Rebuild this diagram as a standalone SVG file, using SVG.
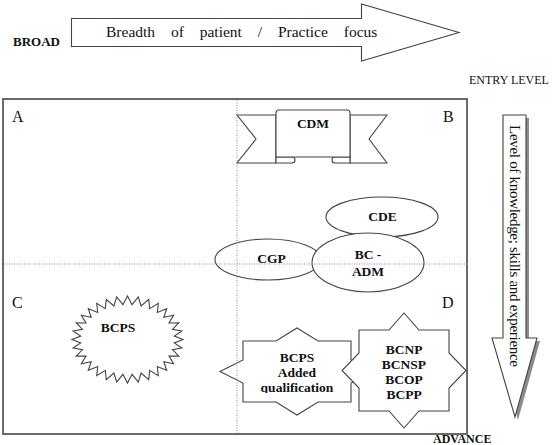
<svg xmlns="http://www.w3.org/2000/svg" width="552" height="445" viewBox="0 0 552 445">
<style>
text{font-family:"Liberation Serif","Times New Roman",serif;fill:#111}
.b{font-weight:bold;font-size:13.5px;text-anchor:middle}
.q{font-size:16px}
.shape{fill:#fff;stroke:#444;stroke-width:1.1}
.grid{stroke:#8a8a8a;stroke-width:1;stroke-dasharray:1 1.5;fill:none}
</style>
<defs>
<clipPath id="clipq"><rect x="240" y="340" width="120" height="53"/></clipPath>
</defs>
<rect width="552" height="445" fill="#fff"/>

<g id="top-arrow">
<polygon class="shape" points="71.5,18.5 361.5,18.5 361.5,4 459,32.5 361.5,61 361.5,46.5 71.5,46.5"/>
<text x="106" y="37" font-size="15.5" word-spacing="12">Breadth of patient / Practice focus</text>
</g>
<text id="broad" x="13" y="46" font-size="13" font-weight="bold">BROAD</text>
<text id="entry" x="469" y="84" font-size="12">ENTRY LEVEL</text>

<g id="frame">
<rect x="3" y="99" width="464" height="335" fill="none" stroke="#6a6a6a" stroke-width="2"/>
</g>

<g id="nodes">
<g id="cdm">
<path class="shape" d="M276,115 H237 L256,139 L237,163 H276 Z"/>
<path class="shape" d="M350,115 H387 L369,139 L387,163 H350 Z"/>
<path class="shape" d="M276,157 V163 H292 A3,3 0 0 0 292,157 Z"/>
<path class="shape" d="M350,157 V163 H335 A3,3 0 0 1 335,157 Z"/>
<path class="shape" d="M276,157 V113 Q276,110 279,110 H347 Q350,110 350,113 V157 Z"/>
<text class="b" x="313" y="128">CDM</text>
</g>
<g id="cde">
<ellipse class="shape" cx="382" cy="217" rx="56" ry="20"/>
<text class="b" x="382.5" y="221">CDE</text>
</g>
<g id="cgp">
<ellipse class="shape" cx="268" cy="259.5" rx="53" ry="20.5"/>
<text class="b" x="271.5" y="263">CGP</text>
</g>
<g id="bcadm">
<ellipse class="shape" cx="368" cy="262.5" rx="56" ry="29.5"/>
<text class="b" x="368" y="259">BC -</text>
<text class="b" x="368" y="276">ADM</text>
</g>
<g id="bcps">
<polygon class="shape" points="127.5,296 132.1,304.7 138.3,296.8 141.1,306 148.7,299.3 149.7,308.6 158.3,303.3 157.3,312.4 166.7,308.7 163.8,317.3 173.6,315.3 169,323 178.8,322.9 172.5,329.3 181.9,331 174.3,336.1 183,339.5 174.3,342.9 181.9,348 172.5,349.7 178.8,356.1 169,356 173.6,363.7 163.8,361.7 166.7,370.3 157.3,366.6 158.3,375.7 149.7,370.4 148.7,379.7 141.1,373 138.3,382.2 132.1,374.3 127.5,383 122.9,374.3 116.7,382.2 113.9,373 106.3,379.7 105.3,370.4 96.7,375.7 97.7,366.6 88.3,370.3 91.2,361.7 81.4,363.7 86,356 76.2,356.1 82.5,349.7 73.1,348 80.7,342.9 72,339.5 80.7,336.1 73.1,331 82.5,329.3 76.2,322.9 86,323 81.4,315.3 91.2,317.3 88.3,308.7 97.7,312.4 96.7,303.3 105.3,308.6 106.3,299.3 113.9,306 116.7,296.8 122.9,304.7"/>
<text class="b" x="118" y="332">BCPS</text>
</g>
<g id="bcps-added">
<polygon class="shape" points="297,328 318,341 351,341 351,360 374,371.5 351,383 351,402 318,402 297,415 276,402 243,402 243,383 220,371.5 243,360 243,341 276,341"/>
<g clip-path="url(#clipq)">
<text class="b" x="297" y="362">BCPS</text>
<text class="b" x="297" y="377">Added</text>
<text class="b" x="297" y="392">qualification</text>
</g>
</g>
<g id="bcnp">
<polygon class="shape" points="404,313 419,330 449,330 449,353 466,370.5 449,388 449,411 419,411 404,428 389,411 359,411 359,388 342,370.5 359,353 359,330 389,330"/>
<text class="b" x="404" y="354">BCNP</text>
<text class="b" x="404" y="369">BCNSP</text>
<text class="b" x="404" y="384">BCOP</text>
<text class="b" x="404" y="399">BCPP</text>
</g>
</g>

<g id="grid">
<line class="grid" x1="237" y1="100" x2="237" y2="433"/>
<line class="grid" x1="4" y1="264" x2="466" y2="264"/>
</g>

<g id="quadrant-labels">
<text class="q" x="12" y="122">A</text>
<text class="q" x="443" y="122">B</text>
<text class="q" x="12" y="308">C</text>
<text class="q" x="442" y="308">D</text>
</g>

<g id="side-arrow">
<polygon points="506,118 529,118 529,341 540,341 518,420 495,341 506,341" fill="#8c8c8c"/>
<polygon class="shape" points="503,115 526,115 526,338 537,338 515,417 492,338 503,338"/>
<text transform="translate(510,125) rotate(90)" font-size="15" textLength="242" lengthAdjust="spacing">Level of knowledge; skills and experience</text>
</g>
<text id="advance" x="433" y="442.5" font-size="12" font-weight="bold">ADVANCE</text>
</svg>
